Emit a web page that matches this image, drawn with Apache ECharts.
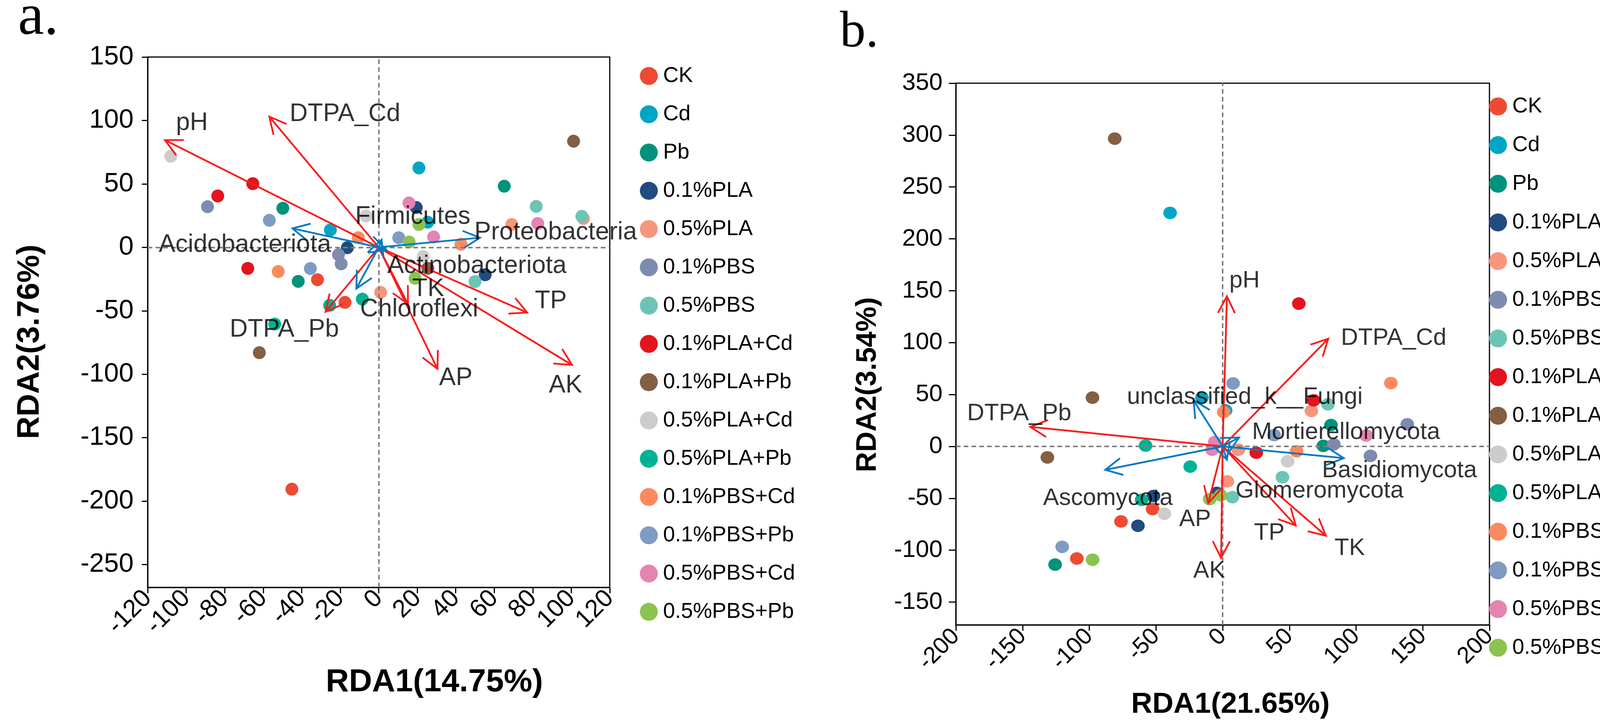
<!DOCTYPE html>
<html>
<head>
<meta charset="utf-8">
<script src="https://cdn.jsdelivr.net/npm/echarts@6.0.0/dist/echarts.min.js"></script>
<style>
  html, body { margin: 0; padding: 0; background: #fff; }
  #main { width: 4264px; height: 1864px; }
</style>
</head>
<body>
<div id="main"></div>
<script>
// treatment groups and their colours
var groups = ['CK', 'Cd', 'Pb', '0.1%PLA', '0.5%PLA', '0.1%PBS', '0.5%PBS',
  '0.1%PLA+Cd', '0.1%PLA+Pb', '0.5%PLA+Cd', '0.5%PLA+Pb',
  '0.1%PBS+Cd', '0.1%PBS+Pb', '0.5%PBS+Cd', '0.5%PBS+Pb'];
var groupColors = ['#ee4a33', '#00a6c4', '#00937c', '#224b80', '#f7967d', '#7d8bae', '#6cc4b6',
  '#e3141e', '#835f44', '#cccccc', '#00b294', '#fd8a5e', '#7f9bc4', '#e583b3', '#8bc34f'];

// sample scores, panel a (bacteria), one list per group
var scoresA = [
  [[-31.8, -25.5], [-17.5, -43.4], [-45.1, -190.6]],
  [[-25.1, 13.7], [20.9, 62.6], [25.4, 19.8]],
  [[-49.8, 30.8], [-41.8, -26.8], [65.2, 48.2]],
  [[-16.3, -0.3], [19.5, 31.4], [55.3, -21.6]],
  [[1.0, -35.5], [69.1, 18], [106.3, 22.8]],
  [[-88.9, 32], [-20.9, -5.8], [-19.5, -13]],
  [[81.8, 32.3], [105.5, 24.4], [50, -27]],
  [[-65.4, 50.2], [-83.6, 40.5], [-68, -16.6]],
  [[101.2, 83.7], [-62, -83], [25.5, -16.5]],
  [[-108, 71.8], [-6.6, 24.7], [23.1, -7.3]],
  [[-8.5, -40.8], [-25.5, -45.7], [-54, -60.5]],
  [[-10.6, 7.6], [-52.2, -19.1], [42.7, 2.5]],
  [[-56.8, 21.3], [-35.5, -16.7], [10.4, 7.6]],
  [[15.7, 35], [82.6, 18.8], [28.5, 8.2]],
  [[20.9, 18], [15.8, 4.2], [18.9, -24.4]]
];

// sample scores, panel b (fungi)
var scoresB = [
  [[-52.5, -60.4], [-76.2, -72.3], [-109.3, -108]],
  [[-39.4, 225], [-15.5, 47], [2.2, 34.7]],
  [[-125.6, -113.9], [81.2, 20.6], [75.5, 0.5]],
  [[-4.4, -44.8], [-51.9, -47.8], [-63.5, -76.5]],
  [[11.8, -3.2], [3.5, -33.7], [66.5, 34.2]],
  [[83.3, 2], [110.8, -9.1], [138.4, 21.3]],
  [[79, 40.6], [44.8, -29.7], [7.3, -48.9]],
  [[57.1, 137.6], [68.2, 44.4], [25.2, -6]],
  [[-80.9, 296.6], [-97.6, 47], [-131.4, -10.6]],
  [[-43.7, -64.9], [48.7, -14.3]],
  [[-57.8, 0.8], [-24.3, -19.5], [-60.7, -51.5]],
  [[126.1, 61], [55.4, -4.7], [0.8, 33]],
  [[7.8, 60.7], [38.6, 10.9], [-120.3, -96.8]],
  [[-5.9, 4.2], [-7.9, -3.2], [107.6, 10.5]],
  [[-1.5, -47], [-9.7, -50.8], [-97.5, -109.2]]
];

// environmental factor arrows (tips) and where their names sit
var envNames = ['pH', 'DTPA_Cd', 'DTPA_Pb', 'TP', 'AK', 'AP', 'TK'];
var envTipsA = [[-111, 84.5], [-56.8, 103], [-27.6, -50.8], [77.1, -51.4], [100.4, -92.7], [30.5, -95.7], [15.2, -44.6]];
var envLabelsA = [[-97, 98], [-17.5, 105], [-49, -65], [89.4, -42.5], [97, -109], [40, -103], [25.7, -33]];
var envTipsB = [[3.2, 144.6], [79.2, 103.8], [-144.1, 18.8], [54.8, -76.3], [-1.2, -107.5], [-10.8, -54.9], [77.4, -86.1]];
var envLabelsB = [[16.4, 159.4], [128.2, 104], [-152.5, 31.6], [35, -83.8], [-10.1, -120], [-20.7, -70.5], [95.2, -98.3]];

// taxa arrows
var taxaNamesA = ['Acidobacteriota', 'Firmicutes', 'Proteobacteria', 'Actinobacteriota', 'Chloroflexi'];
var taxaTipsA = [[-44.8, 14.9], [1.5, 6], [52.6, 7.6], [4, -2], [-11.6, -32.5]];
var taxaLabelsA = [[-69.5, 1.8], [17.7, 24], [91.9, 11.7], [51, -14.8], [21, -49]];
var taxaNamesB = ['unclassified_k__Fungi', 'Mortierellomycota', 'Basidiomycota', 'Glomeromycota', 'Ascomycota'];
var taxaTipsB = [[-21.8, 44.4], [12.3, 8.6], [90.8, -11.3], [3.1, -12.8], [-88, -22.6]];
var taxaLabelsB = [[16.6, 47.2], [92.5, 13.5], [132.5, -23.5], [72.6, -43], [-86, -50]];

// axis ticks
var yTicksA = [-250, -200, -150, -100, -50, 0, 50, 100, 150];
var yTicksB = [-150, -100, -50, 0, 50, 100, 150, 200, 250, 300, 350];

var FONT = 'Liberation Sans, Arial, sans-serif';
var RED = '#ff1a1a';
var BLUE = '#0079c1';

var chartDom = document.getElementById('main');
var myChart = echarts.init(chartDom);

function arrowRender(color) {
  return function (params, api) {
    var s = api.coord([api.value(0), api.value(1)]);
    var e = api.coord([api.value(2), api.value(3)]);
    var ang = Math.atan2(s[1] - e[1], s[0] - e[0]);
    var L = 48, h = 27 * Math.PI / 180;
    var p1 = [e[0] + L * Math.cos(ang + h), e[1] + L * Math.sin(ang + h)];
    var p2 = [e[0] + L * Math.cos(ang - h), e[1] + L * Math.sin(ang - h)];
    var st = { stroke: color, lineWidth: 4.5, fill: 'none' };
    return {
      type: 'group',
      children: [
        { type: 'line', shape: { x1: s[0], y1: s[1], x2: e[0], y2: e[1] }, style: st },
        { type: 'polyline', shape: { points: [p1, e, p2] }, style: st }
      ]
    };
  };
}

function axisCommon() {
  return {
    type: 'value',
    axisLine: { show: true, onZero: false, lineStyle: { color: '#000', width: 3 } },
    axisTick: { show: true, length: 15, lineStyle: { color: '#000', width: 3 } },
    splitLine: { show: false }
  };
}

var xA = Object.assign(axisCommon(), {
  gridIndex: 0, min: -120, max: 120, interval: 20,
  axisLabel: { rotate: 45, fontSize: 64, color: '#000', fontFamily: FONT, margin: 18 }
});
var yA = Object.assign(axisCommon(), {
  gridIndex: 0, min: -268, max: 150,
  axisLabel: { fontSize: 68, color: '#000', fontFamily: FONT, margin: 36, customValues: yTicksA }
});
yA.axisTick.customValues = yTicksA;
var xB = Object.assign(axisCommon(), {
  gridIndex: 1, min: -200, max: 200, interval: 50,
  axisLabel: { rotate: 45, fontSize: 60, color: '#000', fontFamily: FONT, margin: 20 }
});
var yB = Object.assign(axisCommon(), {
  gridIndex: 1, min: -172, max: 350,
  axisLabel: { fontSize: 62, color: '#000', fontFamily: FONT, margin: 34, customValues: yTicksB }
});
yB.axisTick.customValues = yTicksB;
yB.axisTick.length = 18;

var zeroLines = {
  silent: true,
  symbol: ['none', 'none'],
  label: { show: false },
  lineStyle: { color: '#808080', type: [12, 8], width: 4 },
  data: [{ xAxis: 0 }, { yAxis: 0 }]
};

var series = [];
function addPanel(idx, scores, size, envTips, envLabels, taxaNames, taxaTips, taxaLabels, labelSize) {
  groups.forEach(function (g, i) {
    var s = {
      name: g,
      type: 'scatter',
      xAxisIndex: idx,
      yAxisIndex: idx,
      symbol: 'circle',
      symbolSize: size,
      itemStyle: { color: groupColors[i], opacity: 1 },
      data: scores[i],
      z: 2
    };
    if (i === 0) s.markLine = zeroLines;
    series.push(s);
  });
  series.push({
    type: 'custom', xAxisIndex: idx, yAxisIndex: idx, silent: true, z: 5,
    renderItem: arrowRender(RED), encode: { x: [0, 2], y: [1, 3] },
    data: envTips.map(function (t) { return [0, 0, t[0], t[1]]; })
  });
  series.push({
    type: 'custom', xAxisIndex: idx, yAxisIndex: idx, silent: true, z: 5,
    renderItem: arrowRender(BLUE), encode: { x: [0, 2], y: [1, 3] },
    data: taxaTips.map(function (t) { return [0, 0, t[0], t[1]]; })
  });
  var labelData = envLabels.map(function (p, i) { return { value: p, name: envNames[i] }; })
    .concat(taxaLabels.map(function (p, i) { return { value: p, name: taxaNames[i] }; }));
  series.push({
    type: 'scatter', xAxisIndex: idx, yAxisIndex: idx, silent: true, z: 6,
    symbol: 'circle', symbolSize: 1, itemStyle: { color: 'rgba(0,0,0,0)' },
    label: { show: true, position: 'inside', formatter: '{b}', fontSize: labelSize, color: '#000', fontFamily: FONT },
    data: labelData
  });
}
addPanel(0, scoresA, 33, envTipsA, envLabelsA, taxaNamesA, taxaTipsA, taxaLabelsA, 64);
addPanel(1, scoresB, [35, 32], envTipsB, envLabelsB, taxaNamesB, taxaTipsB, taxaLabelsB, 61);

function legendAt(left, top, gap) {
  return {
    orient: 'vertical', left: left, top: top, padding: 0,
    itemWidth: 51, itemHeight: 46, itemGap: gap,
    icon: 'circle', symbolKeepAspect: false,
    textStyle: { fontSize: 55, color: '#000', fontFamily: FONT, lineHeight: 46, padding: [0, 0, 0, 6] },
    data: groups
  };
}

function txt(x, y, text, font, rot) {
  return {
    type: 'text', x: x, y: y, rotation: rot || 0,
    style: { text: text, font: font, fill: '#000', textAlign: 'center', textVerticalAlign: 'middle' }
  };
}

option = {
  backgroundColor: '#fff',
  animation: false,
  grid: [
    { left: 378, top: 146, width: 1183, height: 1358, show: true, borderColor: '#000', borderWidth: 3 },
    { left: 2447, top: 213, width: 1366, height: 1387, show: true, borderColor: '#000', borderWidth: 3 }
  ],
  xAxis: [xA, xB],
  yAxis: [yA, yB],
  legend: [legendAt(1638, 167, 43), legendAt(3812, 245, 44)],
  graphic: [
    { type: 'text', x: 46, y: 48, style: { text: 'a.', font: '150px "Liberation Serif", serif', fill: '#000', textAlign: 'left', textVerticalAlign: 'middle' } },
    { type: 'text', x: 2150, y: 84, style: { text: 'b.', font: '132px "Liberation Serif", serif', fill: '#000', textAlign: 'left', textVerticalAlign: 'middle' } },
    txt(1112, 1747, 'RDA1(14.75%)', 'bold 82px "Liberation Sans", Arial, sans-serif'),
    txt(77, 875, 'RDA2(3.76%)', 'bold 80px "Liberation Sans", Arial, sans-serif', Math.PI / 2),
    txt(3150, 1804, 'RDA1(21.65%)', 'bold 75px "Liberation Sans", Arial, sans-serif'),
    txt(2222, 985, 'RDA2(3.54%)', 'bold 72px "Liberation Sans", Arial, sans-serif', Math.PI / 2)
  ],
  series: series
};

option && myChart.setOption(option);
</script>
</body>
</html>
